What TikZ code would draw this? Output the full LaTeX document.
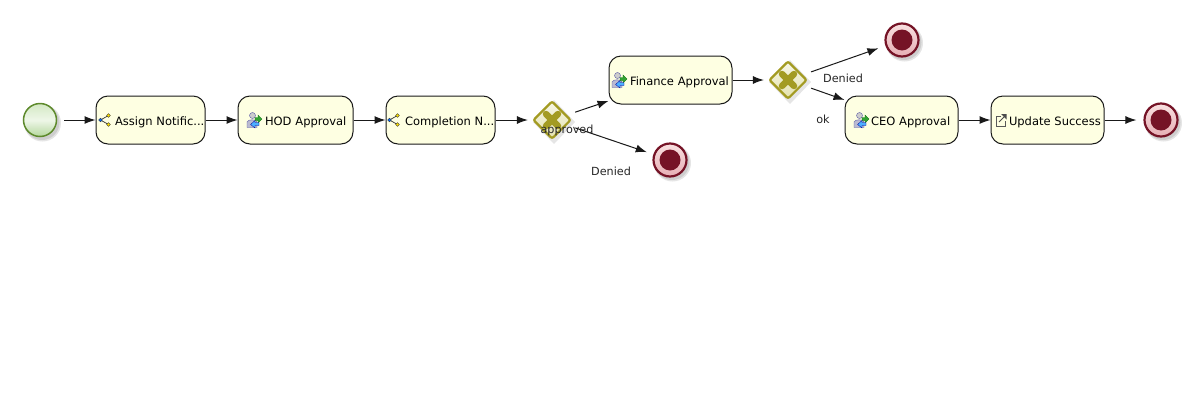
\documentclass[tikz,border=0pt]{standalone}
\usepackage{fontspec}
\setmainfont{DejaVu Sans}
\usetikzlibrary{arrows.meta,shapes.geometric}
\definecolor{taskfill}{HTML}{FEFFE2}
\definecolor{gwline}{HTML}{A39B22}
\definecolor{gwfill}{HTML}{E4E2AE}
\definecolor{gwx}{HTML}{A39B22}
\definecolor{endred}{HTML}{751326}
\definecolor{endtop}{HTML}{F8E0E0}
\definecolor{endbot}{HTML}{E6AEB4}
\definecolor{startline}{HTML}{5E8A2C}
\definecolor{starttop}{HTML}{D3E8C4}
\definecolor{startmid}{HTML}{EEF7E8}
\definecolor{startbot}{HTML}{B5D79E}
\tikzset{
  x=1pt,y=-1pt,
  task/.style={draw=black!90,line width=1pt,rounded corners=12pt,fill=taskfill,minimum height=48pt,inner xsep=0pt,inner ysep=0pt,text height=10pt,text depth=0pt,align=left,font=\fontsize{11.5}{14}\selectfont},
  flow/.style={draw=black!90,line width=1pt,-{Latex[length=11pt,width=8pt]}},
  lbl/.style={font=\fontsize{11.2}{14}\selectfont,inner sep=0pt,text=black!85},
  softshadow/.style={fill=black,opacity=.10,draw=none},
  startev/.style={circle,draw=startline,line width=1.5pt,minimum size=33pt,inner sep=0pt,top color=starttop,bottom color=startbot,middle color=startmid},
  endev/.style={circle,draw=endred,line width=2.2pt,minimum size=33pt,inner sep=0pt,top color=endtop,bottom color=endbot},
  endcore/.style={circle,fill=endred,minimum size=21pt,inner sep=0pt},
  gw/.style={diamond,draw=gwline,line width=2.2pt,rounded corners=2pt,minimum size=38pt,inner sep=0pt,top color=gwfill!30!white,bottom color=gwfill},
  gwcross/.style={draw=gwx,line width=6.5pt,line cap=round},
  icon/.style={line width=.7pt},
  pics/shareicon/.style={code={
    \draw[icon,black!80] (3,0) -- (11,-4.5) (3,0) -- (11,4.5);
    \fill[draw=black!80,fill=blue!60!cyan,line width=.4pt] (3,0) circle (1.9);
    \fill[draw=black!80,fill=yellow!85!orange,line width=.4pt] (11,-4.5) circle (1.9);
    \fill[draw=black!80,fill=yellow!85!orange,line width=.4pt] (11,4.5) circle (1.9);
  }},
  pics/usericon/.style={code={
    \fill[draw=blue!30!gray,fill=gray!40,line width=.4pt] (-1.5,-4.5) circle (3);
    \fill[draw=blue!30!gray,fill=blue!20!gray!45,line width=.4pt] (-7,7.5) -- (-7,2) .. controls (-6,-1) and (2,-1) .. (3,2) -- (3,7.5) -- cycle;
    \fill[draw=green!40!black,fill=green!55!black!80,line width=.3pt] (1,-2.5) -- (4,-2.5) -- (4,-5) -- (8,-1) -- (4,3) -- (4,.5) -- (1,.5) -- cycle;
    \fill[draw=blue!60!black,fill=blue!45!cyan!70,line width=.3pt] (5,2.5) -- (1,2.5) -- (1,.5) -- (-3.5,4.5) -- (1,8) -- (1,5.5) -- (5,5.5) -- cycle;
  }},
  pics/sendicon/.style={code={
    \draw[icon,black!65,line width=.9pt] (1,-3.5) -- (-4,-3.5) -- (-4,6) -- (5,6) -- (5,1);
    \draw[icon,black!70,line width=1pt] (-1,2) -- (5,-4);
    \fill[black!70] (1,-6) -- (6.5,-6) -- (6.5,-.5) -- cycle;
  }},
}
\newcommand{\tasktext}[2]{\hspace*{#1pt}\mbox{#2}}
\begin{document}
\begin{tikzpicture}
\useasboundingbox (0,0) rectangle (1185,413);
% soft shadows
\foreach \cx/\cy in {40/120,670/160,902/40,1161/120}{
  \fill[softshadow] (\cx+2.5,\cy+3) circle (18.5);
  \fill[softshadow] (\cx+2,\cy+2.5) circle (17.5);
}
\foreach \cx/\cy in {552/120,788/80}{
  \fill[softshadow] (\cx+2,\cy-20) -- (\cx+23,\cy+2) -- (\cx+2,\cy+24) -- (\cx-19,\cy+2) -- cycle;
}
% events and gateways
\node[startev] (start) at (40,120) {};
\node[gw] (g1) at (552,120) {};
\node[gw] (g2) at (788,80) {};
\draw[gwcross] (546,114) -- (558,126) (558,114) -- (546,126);
\draw[gwcross] (782,74) -- (794,86) (794,74) -- (782,86);
\node[endev] (e1) at (670,160) {};
\node[endcore] at (e1) {};
\node[endev] (e2) at (902,40) {};
\node[endcore] at (e2) {};
\node[endev] (e3) at (1161,120) {};
\node[endcore] at (e3) {};
% tasks
\node[task,text width=109pt,minimum width=109pt] (assign) at (150.5,120) {\tasktext{19}{Assign Notific...}};
\node[task,text width=115pt,minimum width=115pt] (hod) at (295.5,120) {\tasktext{27}{HOD Approval}};
\node[task,text width=109pt,minimum width=109pt] (completion) at (440.5,120) {\tasktext{19}{Completion N...}};
\node[task,text width=123pt,minimum width=123pt] (finance) at (670.5,80) {\tasktext{21}{Finance Approval}};
\node[task,text width=113pt,minimum width=113pt] (ceo) at (901.5,120) {\tasktext{26}{CEO Approval}};
\node[task,text width=113pt,minimum width=113pt] (update) at (1047.5,120) {\tasktext{18}{Update Success}};
% task icons
\pic at (97.5,120) {shareicon};
\pic at (386.5,120) {shareicon};
\pic at (254,120) {usericon};
\pic at (619,80) {usericon};
\pic at (861,120) {usericon};
\pic at (1000,120) {sendicon};
% connectors
\draw[flow,shorten <=7pt] (start) -- (assign);
\draw[flow] (assign) -- (hod);
\draw[flow] (hod) -- (completion);
\draw[flow,shorten >=4pt] (completion) -- (g1);
\draw[flow,shorten <=24.5pt] (g1.center) -- (finance);
\draw[flow,shorten <=24.5pt,shorten >=24.5pt] (g1.center) -- (e1.center);
\draw[flow,shorten >=4pt] (finance) -- (g2);
\draw[flow,shorten <=24.5pt,shorten >=25pt] (g2.center) -- (e2.center);
\draw[flow,shorten <=24.5pt] (g2.center) -- (ceo);
\draw[flow] (ceo) -- (update);
\draw[flow,shorten >=7pt] (update) -- (e3);
% labels
\node[lbl] (lapproved) at (567,130.5) {approved};
\node[lbl] (ldenied1) at (611,171) {Denied};
\node[lbl] (ldenied2) at (843,78) {Denied};
\node[lbl] (lok) at (823,119) {ok};
\end{tikzpicture}
\end{document}
